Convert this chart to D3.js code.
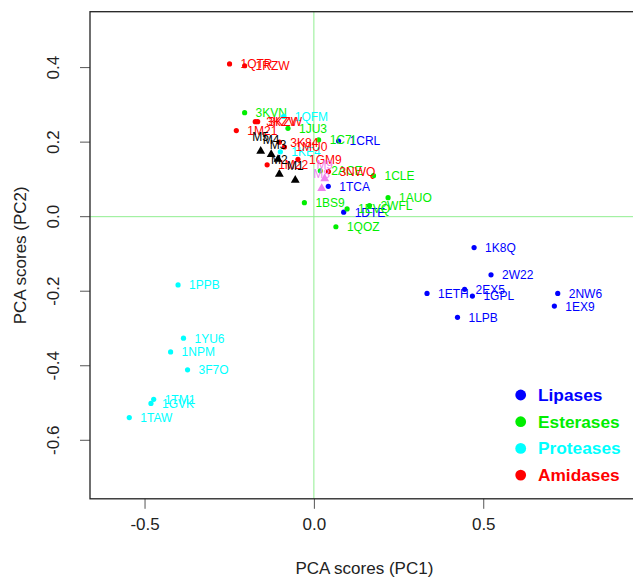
<!DOCTYPE html>
<html><head><meta charset="utf-8">
<script src="https://cdn.jsdelivr.net/npm/d3@7"></script>
<style>body{margin:0;background:#fff;} svg{display:block;font-family:"Liberation Sans",Arial,sans-serif;}</style>
</head><body>
<svg id="chart" width="633" height="579"></svg>
<script>
// ---- data ----
const categories = ["Lipases", "Esterases", "Proteases", "Amidases"];
const categoryColors = ["#0000FF", "#00EE00", "#00FFFF", "#FF0000"];

const lipases = [
  ["1CRL", 0.073, 0.203], ["1TCA", 0.0425, 0.0815], ["1DTE", 0.088, 0.012],
  ["1K8Q", 0.473, -0.083], ["2W22", 0.523, -0.156], ["2EX5", 0.445, -0.195],
  ["1ETH", 0.334, -0.206], ["1GPL", 0.468, -0.213], ["2NW6", 0.720, -0.206],
  ["1EX9", 0.710, -0.240], ["1LPB", 0.424, -0.270]
];
const esterases = [
  ["3KVN", -0.2045, 0.279], ["1JU3", -0.0765, 0.237], ["1C7I", 0.014, 0.206],
  ["2ACE", 0.019, 0.123], ["1CLE", 0.176, 0.110], ["1AUO", 0.219, 0.051],
  ["2WFL", 0.164, 0.0295], ["1EVQ", 0.098, 0.0207], ["1BS9", -0.028, 0.0376],
  ["1QOZ", 0.065, -0.027]
];
const proteases = [
  ["1QFM", -0.089, 0.269], ["1KE4", -0.099, 0.174], ["1PPB", -0.401, -0.183],
  ["1YU6", -0.385, -0.326], ["1NPM", -0.423, -0.363], ["3F7O", -0.373, -0.411],
  ["1TM1", -0.473, -0.490], ["1GVK", -0.481, -0.501], ["1TAW", -0.545, -0.539]
];
const amidases = [
  ["1QTR", -0.249, 0.410], ["1RZW", -0.2045, 0.405], ["3KZV", -0.173, 0.255],
  ["3KZW", -0.166, 0.255], ["1M21", -0.229, 0.231], ["3K84", -0.102, 0.200],
  ["1MU0", -0.087, 0.187], ["1GM9", -0.047, 0.154], ["1M22", -0.138, 0.139],
  ["3NWQ", 0.043, 0.121]
];
const modelsBlack = [
  ["M5", -0.157, 0.176], ["M4", -0.126, 0.167], ["M3", -0.106, 0.154],
  ["M2", -0.102, 0.114], ["M1", -0.055, 0.098]
];
const modelsViolet = [["M9", 0.032, 0.102], ["M8", 0.023, 0.076]];

const xTicks = [-0.5, 0.0, 0.5];
const yTicks = [-0.6, -0.4, -0.2, 0.0, 0.2, 0.4];
const xDomain = [-0.661, 0.959];
const yDomain = [-0.757, 0.550];

// ---- layout ----
const svg = d3.select("#chart");
const L = 90, R = 638.7, T = 11.7, B = 498.8;
const x = d3.scaleLinear().domain(xDomain).range([L, R]);
const y = d3.scaleLinear().domain(yDomain).range([B, T]);
const fmt = d => d.toFixed(1);

// reference lines
svg.append("line").attr("x1", x(0)).attr("x2", x(0)).attr("y1", T).attr("y2", B)
  .attr("stroke", "#90EE90").attr("stroke-width", 1);
svg.append("line").attr("x1", L).attr("x2", R).attr("y1", y(0)).attr("y2", y(0))
  .attr("stroke", "#90EE90").attr("stroke-width", 1);

// axes
const xAxis = d3.axisBottom(x).tickValues(xTicks).tickFormat(fmt).tickSize(10).tickPadding(9);
const gx = svg.append("g").attr("transform", `translate(0,${B})`).call(xAxis);
gx.select(".domain").remove();
gx.selectAll("line").attr("stroke", "#555");
gx.selectAll("text").attr("font-size", 17).attr("fill", "#222")
  .attr("font-family", '"Liberation Sans",Arial,sans-serif');

const yAxis = d3.axisLeft(y).tickValues(yTicks).tickFormat(fmt).tickSize(10).tickPadding(0);
const gy = svg.append("g").attr("transform", `translate(${L},0)`).call(yAxis);
gy.select(".domain").remove();
gy.selectAll("line").attr("stroke", "#555");
gy.selectAll(".tick").attr("transform", "translate(0,0)");
gy.selectAll(".tick line").attr("y1", d => y(d)).attr("y2", d => y(d));
gy.selectAll("text").attr("font-size", 17).attr("fill", "#222")
  .attr("font-family", '"Liberation Sans",Arial,sans-serif')
  .attr("x", null).attr("dy", null).attr("y", 0)
  .attr("text-anchor", "middle")
  .attr("transform", d => `translate(${-31},${y(d)}) rotate(-90)`);

// box
svg.append("rect").attr("x", L).attr("y", T).attr("width", R - L).attr("height", B - T)
  .attr("fill", "none").attr("stroke", "#222").attr("stroke-width", 1.3);

// axis titles
svg.append("text").attr("x", (L + R) / 2).attr("y", 574).attr("text-anchor", "middle")
  .attr("font-size", 17).attr("fill", "#222").text("PCA scores (PC1)");
svg.append("text").attr("transform", `translate(26,${(T + B) / 2}) rotate(-90)`)
  .attr("text-anchor", "middle").attr("font-size", 17).attr("fill", "#222").text("PCA scores (PC2)");

// points
const groups = [lipases, esterases, proteases, amidases];
const plot = svg.append("g");
groups.forEach((g, i) => {
  const col = categoryColors[i];
  const sel = plot.append("g");
  sel.selectAll("circle").data(g).enter().append("circle")
    .attr("cx", d => x(d[1])).attr("cy", d => y(d[2])).attr("r", 2.6).attr("fill", col);
  sel.selectAll("text").data(g).enter().append("text")
    .attr("x", d => x(d[1]) + 11).attr("y", d => y(d[2]) + 4.4)
    .attr("font-size", 12).attr("fill", col).text(d => d[0]);
});

const tri = d3.symbol().type(d3.symbolTriangle).size(34);
[[modelsBlack, "#000000"], [modelsViolet, "#EE82EE"]].forEach(([g, col]) => {
  const sel = plot.append("g");
  sel.selectAll("path").data(g).enter().append("path")
    .attr("d", tri).attr("transform", d => `translate(${x(d[1])},${y(d[2])})`).attr("fill", col);
  sel.selectAll("text").data(g).enter().append("text")
    .attr("x", d => x(d[1])).attr("y", d => y(d[2]) - 10).attr("text-anchor", "middle")
    .attr("font-size", 12).attr("fill", col).text(d => d[0]);
});

// legend
const leg = svg.append("g");
categories.forEach((c, i) => {
  const cy = 395 + i * 26.7;
  leg.append("circle").attr("cx", 520.7).attr("cy", cy).attr("r", 5.4).attr("fill", categoryColors[i]);
  leg.append("text").attr("x", 538).attr("y", cy + 6).attr("font-size", 17.3).attr("font-weight", "bold")
    .attr("fill", categoryColors[i]).text(c);
});
</script>
</body></html>
